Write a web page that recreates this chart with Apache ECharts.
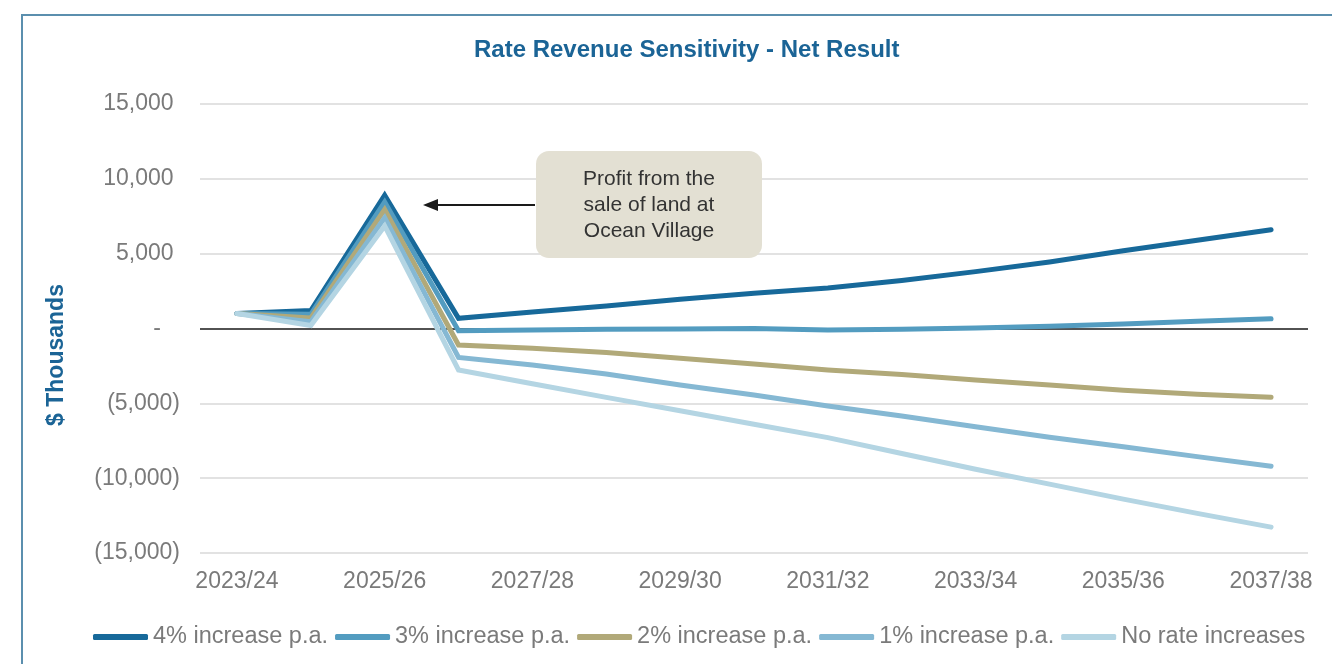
<!DOCTYPE html>
<html>
<head>
<meta charset="utf-8">
<script src="https://cdn.jsdelivr.net/npm/echarts@6/dist/echarts.min.js"></script>
<style>
html,body{margin:0;padding:0;background:#fff;}
#chart{width:1332px;height:664px;}
</style>
</head>
<body>
<div id="chart"></div>
<script>
var categories = ['2023/24','2024/25','2025/26','2026/27','2027/28','2028/29','2029/30','2030/31','2031/32','2032/33','2033/34','2034/35','2035/36','2036/37','2037/38'];
var seriesNames = ['4% increase p.a.','3% increase p.a.','2% increase p.a.','1% increase p.a.','No rate increases'];
var inc4 = [1000, 1200, 8900, 680, 1100, 1500, 1950, 2350, 2700, 3200, 3800, 4450, 5200, 5900, 6600];
var inc3 = [1000, 950, 8450, -150, -100, -50, -30, 0, -100, -50, 30, 150, 300, 480, 650];
var inc2 = [1000, 700, 7950, -1100, -1320, -1610, -1990, -2370, -2770, -3080, -3440, -3780, -4130, -4400, -4600];
var inc1 = [1000, 450, 7400, -1930, -2440, -3040, -3770, -4440, -5180, -5850, -6560, -7270, -7900, -8560, -9200];
var inc0 = [1000, 200, 6850, -2770, -3690, -4600, -5490, -6400, -7290, -8350, -9400, -10400, -11400, -12350, -13270];
var colors = ['#17699a', '#539cc0', '#b1a979', '#85b8d3', '#b4d5e3'];
var titleText = 'Rate Revenue Sensitivity - Net Result';
var yName = '$ Thousands';
var noteLines = ['Profit from the', 'sale of land at', 'Ocean Village'];

function fmt(v) {
  var s = Math.abs(v).toString().replace(/\B(?=(\d{3})+(?!\d))/g, ',');
  if (v > 0) return s + ' ';
  if (v < 0) return '(' + s + ')';
  return '-   ';
}

var allData = [inc4, inc3, inc2, inc1, inc0];
var series = allData.map(function (d, i) {
  var s = {
    name: seriesNames[i],
    type: 'line',
    data: d,
    symbol: 'none',
    showSymbol: false,
    lineStyle: { width: 5, color: colors[i], cap: 'round', join: 'miter' },
    itemStyle: { color: colors[i] },
    emphasis: { disabled: true }
  };
  if (i === 0) {
    s.markLine = {
      silent: true,
      symbol: 'none',
      label: { show: false },
      lineStyle: { color: '#222', width: 1.5, type: 'solid' },
      data: [{ yAxis: 0 }],
      z: 1
    };
  }
  return s;
});

var chart = echarts.init(document.getElementById('chart'));
chart.setOption({
  animation: false,
  backgroundColor: '#fff',
  title: {
    text: titleText,
    left: 469,
    top: 33,
    textStyle: { fontFamily: 'Liberation Sans, Arial, sans-serif', fontSize: 24, fontWeight: 'bold', color: '#1b6496' }
  },
  grid: { left: 200, right: 24, top: 104, bottom: 111, containLabel: false },
  legend: {
    left: 88,
    top: 620,
    icon: 'roundRect',
    itemWidth: 55,
    itemHeight: 6,
    itemGap: 7,
    data: seriesNames,
    textStyle: { fontFamily: 'Liberation Sans, Arial, sans-serif', fontSize: 23.5, color: '#7a7a7a' }
  },
  xAxis: {
    type: 'category',
    data: categories,
    boundaryGap: true,
    axisLine: { show: false },
    axisTick: { show: false },
    axisLabel: { interval: 1, margin: 17, fontFamily: 'Liberation Sans, Arial, sans-serif', fontSize: 23, color: '#7a7a7a' }
  },
  yAxis: {
    type: 'value',
    min: -15000,
    max: 15000,
    interval: 5000,
    axisLine: { show: false },
    axisTick: { show: false },
    splitLine: { lineStyle: { color: '#d9d9d9', width: 1.5 } },
    axisLabel: { margin: 20, formatter: fmt, fontFamily: 'Liberation Sans, Arial, sans-serif', fontSize: 23, color: '#7a7a7a' }
  },
  graphic: [
    { type: 'rect', shape: { x: 22, y: 15, width: 1400, height: 700 }, style: { fill: 'none', stroke: '#5b8fae', lineWidth: 2 }, silent: true, z: 0 },
    { type: 'text', x: 57, y: 355, rotation: Math.PI / 2, style: { text: yName, textAlign: 'center', textVerticalAlign: 'middle', font: 'bold 23px "Liberation Sans", Arial, sans-serif', fill: '#1b6496' }, silent: true },
    { type: 'rect', shape: { x: 536, y: 151, width: 226, height: 107, r: 13 }, style: { fill: '#e3e0d3' }, silent: true, z: 10 },
    { type: 'text', x: 649, y: 205, style: { text: noteLines.join('\n'), textAlign: 'center', textVerticalAlign: 'middle', lineHeight: 26, font: '21px "Liberation Sans", Arial, sans-serif', fill: '#333333' }, silent: true, z: 11 },
    { type: 'line', shape: { x1: 535, y1: 205, x2: 436, y2: 205 }, style: { stroke: '#1a1a1a', lineWidth: 2 }, silent: true, z: 10 },
    { type: 'polygon', shape: { points: [[423, 205], [438, 199], [438, 211]] }, style: { fill: '#1a1a1a' }, silent: true, z: 10 }
  ],
  series: series
});
</script>
</body>
</html>
